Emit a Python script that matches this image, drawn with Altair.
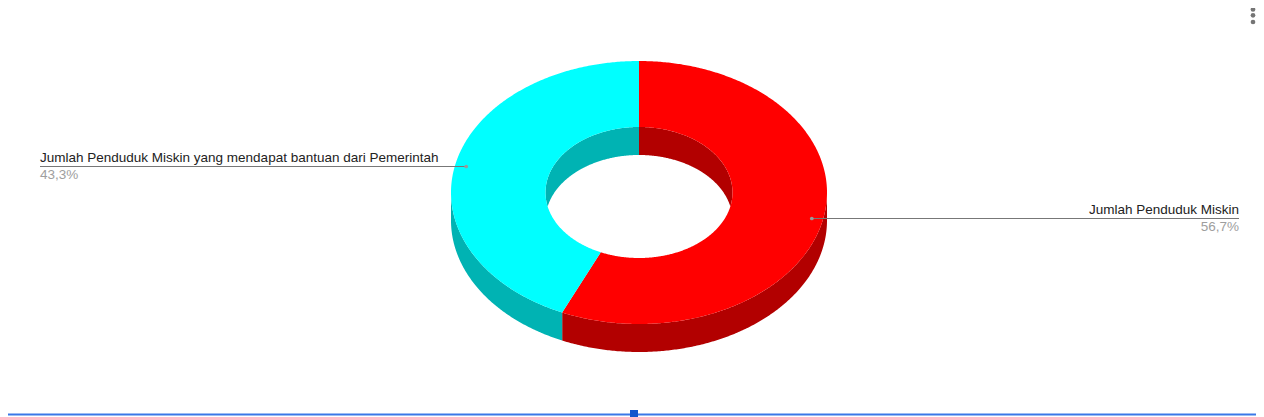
import numpy as np
import pandas as pd
import altair as alt

# ---- values ----
names = ["Jumlah Penduduk Miskin", "Jumlah Penduduk Miskin yang mendapat bantuan dari Pemerintah"]
shares = [56.7, 43.3]
share_labels = ["56,7%", "43,3%"]
top_colors = ["#ff0000", "#00ffff"]
side_colors = ["#b20000", "#00b3b3"]

# ---- geometry of the tilted ring (page pixels) ----
W, H = 1248, 409
CX, CY = 639.0, 192.5
RX, RY = 188.0, 131.5
IX, IY = 93.5, 65.5
DEPTH = 28.0
ANCHOR = 0.94


def arc(a, b, rx, ry, dy=0.0):
    t = np.radians(np.linspace(a, b, max(int(abs(b - a)) * 2, 2) + 1))
    return [[float(CX + rx * np.sin(v)), float(CY + dy - ry * np.cos(v))] for v in t]


def feature(points, color):
    ring = points + [points[0]]
    return {"type": "Feature", "properties": {"color": color},
            "geometry": {"type": "Polygon", "coordinates": [ring]}}


angles = [s / sum(shares) * 360 for s in shares]
starts = [float(v) for v in np.cumsum([0] + angles[:-1])]

t_star = float(np.degrees(np.arccos(-(DEPTH / 2) / IY)))
t_back = float(np.degrees(np.arccos((DEPTH / 2) / IY)))

walls, tops = [], []
for start, ang, top, side in zip(starts, angles, top_colors, side_colors):
    end = start + ang
    # outer wall: only the front half shows
    a, b = max(start, 90), min(end, 270)
    if b > a:
        walls.append(feature(arc(a, b, RX, RY) + arc(b, a, RX, RY, DEPTH), side))
    # inner wall: only the back of the hole shows
    if start < t_star:
        b = min(end, t_star)
        b2 = min(end, t_back)
        walls.append(feature(arc(start, b, IX, IY) + arc(b2, start, IX, IY, DEPTH), side))
    if end > 360 - t_star:
        a = max(start, 360 - t_star)
        a2 = max(start, 360 - t_back)
        walls.append(feature(arc(a, end, IX, IY) + arc(end, a2, IX, IY, DEPTH), side))
    tops.append(feature(arc(start, end, RX, RY) + arc(end, start, IX, IY), top))

projection = alt.Projection(type="identity", scale=1, translate=[-8, -8])


def shapes(features):
    return alt.Chart(alt.Data(values=features)).mark_geoshape(strokeWidth=0).encode(
        color=alt.Color("properties.color:N", scale=None)
    ).project(**projection.to_dict())


# ---- leader lines and labels ----
rows = []
for name, lab, start, ang in zip(names, share_labels, starts, angles):
    mid = np.radians(start + ang / 2)
    ax = CX + ANCHOR * RX * np.sin(mid)
    ay = CY - ANCHOR * RY * np.cos(mid)
    right = np.sin(mid) > 0
    rows.append({"name": name, "share": lab, "ax": ax, "ay": np.floor(ay) + 0.5,
                 "ex": 1239 if right else 40, "side": "right" if right else "left"})
leaders = pd.DataFrame(rows)
leaders["name_y"] = leaders["ay"] - 4.5
leaders["share_y"] = leaders["ay"] + 12

xs = alt.Scale(domain=[8, 8 + W], range=[0, W])
ys = alt.Scale(domain=[8 + H, 8], range=[H, 0])
X = lambda f: alt.X(f, type="quantitative", scale=xs, axis=None)
Y = lambda f: alt.Y(f, type="quantitative", scale=ys, axis=None)

rule = alt.Chart(leaders).mark_rule(color="#777777", strokeWidth=1).encode(
    x=X("ax"), x2="ex", y=Y("ay"))
dot = alt.Chart(leaders).mark_circle(color="#999999", size=14, opacity=1).encode(x=X("ax"), y=Y("ay"))


def label(side, field, yfield, color):
    return alt.Chart(leaders[leaders["side"] == side]).mark_text(
        align=side, baseline="alphabetic", font="Liberation Sans", fontSize=13.5, color=color
    ).encode(x=X("ex"), y=Y(yfield), text=alt.Text(field))


# ---- page furniture visible in the screenshot ----
menu = pd.DataFrame({"x": [1253, 1253, 1253], "y": [9.5, 15.3, 22]})
menu_dots = alt.Chart(menu).mark_circle(color="#757575", size=22, opacity=1).encode(x=X("x"), y=Y("y"))
edge = pd.DataFrame({"x": [8], "x2": [1256], "y": [414.5]})
edge_line = alt.Chart(edge).mark_rule(color="#3b78e7", strokeWidth=2).encode(x=X("x"), x2="x2", y=Y("y"))
handle = pd.DataFrame({"x": [634], "y": [414]})
handle_mark = alt.Chart(handle).mark_square(color="#1155cc", size=64, opacity=1).encode(x=X("x"), y=Y("y"))

chart = alt.layer(
    shapes(walls), shapes(tops), rule, dot,
    label("left", "name", "name_y", "#222222"), label("left", "share", "share_y", "#9e9e9e"),
    label("right", "name", "name_y", "#222222"), label("right", "share", "share_y", "#9e9e9e"),
    menu_dots, edge_line, handle_mark,
).properties(width=W, height=H, padding=0, autosize=alt.AutoSizeParams(type="none"), background="white"
).configure_view(stroke=None)

chart.save("out.html", embed_options={"renderer": "svg", "actions": False})
